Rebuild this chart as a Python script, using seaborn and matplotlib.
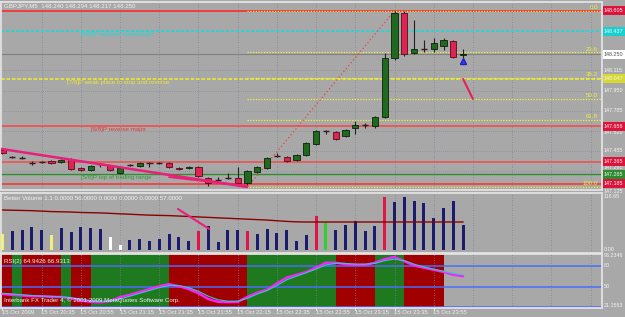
import matplotlib
matplotlib.use("Agg")
import matplotlib.pyplot as plt
import matplotlib.transforms as mtrans
from matplotlib.patches import Rectangle
import numpy as np
import seaborn as sns

sns.set_style("dark")
plt.rcParams['font.family'] = ['Liberation Sans', 'DejaVu Sans']
plt.rcParams['patch.edgecolor'] = 'none'

# ---------------- data ----------------
title_text = "GBPJPY,M5  148.240 148.294 148.217 148.250"
opens = [147.463,147.405,147.405,147.356,147.364,147.373,147.364,147.389,147.315,147.299,
         147.348,147.332,147.274,147.340,147.332,147.356,147.356,147.356,147.315,147.315,
         147.323,147.233,147.217,147.233,147.233,147.192,147.282,147.315,147.414,147.405,
         147.381,147.422,147.512,147.619,147.610,147.578,147.643,147.668,147.660,147.733,
         148.217,148.586,148.258,148.291,148.291,148.316,148.357,148.240]
highs = [147.471,147.414,147.414,147.373,147.373,147.381,147.389,147.397,147.323,147.340,
         147.356,147.340,147.323,147.348,147.364,147.364,147.364,147.364,147.323,147.332,
         147.332,147.241,147.241,147.274,147.323,147.299,147.332,147.405,147.438,147.414,
         147.430,147.528,147.627,147.627,147.619,147.635,147.701,147.685,147.741,148.258,
         148.605,148.605,148.529,148.365,148.381,148.381,148.365,148.294]
lows = [147.430,147.397,147.389,147.340,147.356,147.348,147.356,147.299,147.291,147.291,
        147.323,147.291,147.266,147.332,147.323,147.323,147.348,147.315,147.299,147.307,
        147.241,147.168,147.209,147.225,147.184,147.159,147.274,147.307,147.405,147.364,
        147.373,147.414,147.504,147.594,147.545,147.570,147.594,147.643,147.643,147.725,
        148.201,148.234,148.250,148.266,148.266,148.283,148.217,148.217]
closes = [147.438,147.405,147.400,147.360,147.364,147.356,147.381,147.307,147.299,147.332,
          147.348,147.299,147.315,147.340,147.356,147.356,147.360,147.323,147.307,147.323,
          147.250,147.192,147.217,147.233,147.192,147.291,147.323,147.397,147.414,147.373,
          147.422,147.520,147.619,147.619,147.553,147.627,147.668,147.664,147.733,148.217,
          148.586,148.250,148.291,148.287,148.340,148.365,148.225,148.250]

volumes = [35.8,42.5,44.8,51.5,44.8,33.6,49.3,40.3,51.5,49.3,
           47.0,29.1,11.2,22.4,24.6,20.2,24.6,35.8,29.1,20.2,
           42.5,53.7,17.9,44.8,44.8,42.5,35.8,47.0,38.1,44.8,
           20.2,33.6,76.1,62.7,44.8,56.0,64.9,42.5,53.7,118.65,
           107.5,118.65,109.7,105.2,71.6,94.0,109.7,57.0]
vol_kind = ['y','n','n','n','n','y','n','n','n','n','n','w','w','n','n','n','n','n','n','n',
            'c','n','n','n','n','c','n','n','n','n','n','n','c','g','n','n','n','n','n','c',
            'n','n','n','n','n','n','n','n']
vol_ma = [89.6,89.0,88.5,88.0,87.0,86.0,85.5,85.0,84.0,83.5,83.0,82.0,81.0,80.0,79.0,78.0,
          77.5,77.0,76.0,75.0,74.0,73.0,72.0,71.0,70.0,69.0,68.0,67.0,65.5,64.0,63.0,
          62.7,62.7,62.7,62.7,62.7,62.7,62.7,62.7,62.7,62.7,62.7,62.7,62.7,62.7,62.7,62.7,62.7]

rsi_main = [40,39,38,37,37,36,36,34,31,29, 28.6,30,35.7,39,43,47,51,54,51,47,
            41,33,29,28.6,29,36,42,46,55,63, 67,71,77,84,84,82,81,81,84,89,
            92,86,80,77,74,71,67,64.94]
rsi_signal = [41,40,39,38,37,37,36,35,33,31, 30,30,33,37,41,45,49,52,52,49,
              44,37,32,30,30,34,40,45,52,60, 65,70,75,81,83,83,82,82,83,87,
              89,87,82,78,75,72,69,66.93]
rsi_band = ['r','g','r','r','r','r','g','r','r',
            'g','g','g','g','g','g','g','g',
            'r','r','r','r','r','r','r','r',
            'g','g','g','g','g','g','g','g','g',
            'r','r','r','r','g','g','g','r','r','r','r']

time_label_bars = [0,4,8,12,16,20,24,28,32,36,40,44]
time_labels = ["15 Oct 2009","15 Oct 20:35","15 Oct 20:55","15 Oct 21:15","15 Oct 21:35",
               "15 Oct 21:55","15 Oct 22:15","15 Oct 22:35","15 Oct 22:55","15 Oct 23:15",
               "15 Oct 23:35","15 Oct 23:55"]

murrey_levels = [147.265625, 147.65625, 148.046875, 148.4375]
murrey_texts = ["[5/8]P top of trading range", "[6/8]P reverse major",
                "[7/8]P weak place to stop and reverse", "[8/8]P extreme overbought"]
murrey_labels = ["147.265", "147.656", "148.047", "148.437"]
red_levels = [148.605, 147.365, 147.185]
red_labels = ["148.605", "147.365", "147.185"]
current_price = 148.250
fib_high, fib_low = 148.605, 147.159
fib_high_bar, fib_low_bar = 40, 25
fib_pcts = [0.0, 23.6, 38.2, 50.0, 61.8, 100.0]
price_ticks = [148.115, 147.950, 147.785, 147.620, 147.455, 147.290, 147.125]
trend_a = ([-0.15, 25], [147.472, 147.159])
trend_b = ([17, 25], [147.241, 147.168])
trend_c = ([47, 48], [148.045, 147.881])
vol_trend = ([17.9, 21.1], [91.8, 47.0])

# ---------------- figure ----------------
W, H = 625, 317
BG = '#a8a8a8'
fig = plt.figure(figsize=(W / 100, H / 100), dpi=100, facecolor=BG)
fx = lambda px: px / W
fy = lambda py: 1 - py / H

ax_p = fig.add_axes([fx(1), fy(190), 601 / W, 188.5 / H])
ax_v = fig.add_axes([fx(1), fy(252.5), 601 / W, 60 / H])
ax_r = fig.add_axes([fx(1), fy(307.5), 601 / W, 53.5 / H])

bars = np.arange(len(opens))
XL = (-0.15, 61.17)
grid_c = '#7a8594'
for ax in (ax_p, ax_v, ax_r):
    ax.set_facecolor(BG)
    ax.set_xlim(*XL)
    ax.set_xticks([])
    ax.set_yticks([])
    for s in ax.spines.values():
        s.set_color('#e2e2e2')
        s.set_linewidth(1.3)
    for k in range(4, 62, 4):
        ax.axvline(k, color=grid_c, lw=0.6, ls=(0, (1, 2)), zorder=0.6)

ax_p.set_ylim(147.1348, 148.6805)
ax_v.set_ylim(-5.6, 128.7)
ax_r.set_ylim(21.1563, 96.2346)

# price panel
for t in price_ticks:
    ax_p.axhline(t, color=grid_c, lw=0.5, ls=(0, (1, 2)), zorder=0.6)

ax_p.axhline(current_price, color='#808080', lw=0.8, zorder=1)
ax_p.axhline(murrey_levels[0], color='#2f8f2f', lw=1.0, zorder=1.5)
ax_p.axhline(murrey_levels[1], color='#e85a5a', lw=1.4, zorder=1.5)
ax_p.axhline(murrey_levels[2], color='#e6e63a', lw=1.3, ls=(0, (2, 1)), zorder=1.5)
ax_p.axhline(murrey_levels[3], color='#20d8d8', lw=1.2, ls=(0, (2, 1)), zorder=1.5)
ax_p.axhline(red_levels[0], color='#ff2a2a', lw=1.2, zorder=1.5)
ax_p.axhline(red_levels[1], color='#e85a5a', lw=1.3, zorder=1.5)
ax_p.axhline(red_levels[2], color='#ff3030', lw=1.1, zorder=1.5)

fib_vals = [fib_high - p / 100 * (fib_high - fib_low) for p in fib_pcts]
ax_p.hlines(fib_vals, fib_low_bar, XL[1], color='#f0f040', lw=0.9, ls=(0, (1, 1.2)), zorder=2)
ax_p.plot([fib_low_bar, fib_high_bar], [fib_low, fib_high], color='#e84040', lw=0.9,
          ls=(0, (1, 2)), zorder=2)

# candles
o = np.array(opens); c = np.array(closes); h = np.array(highs); l = np.array(lows)
ax_p.vlines(bars, l, h, color='#202020', lw=0.8, zorder=3)
body = np.abs(c - o)
doji = body < 0.006
bull = (c > o) & ~doji
bear = (c < o) & ~doji
ax_p.bar(bars[bull], (c - o)[bull], bottom=o[bull], width=0.62, color='#1f6a1f',
         edgecolor='#0c200c', linewidth=0.6, zorder=4)
ax_p.bar(bars[bear], (o - c)[bear], bottom=c[bear], width=0.62, color='#dc2553',
         edgecolor='#5a0a1a', linewidth=0.6, zorder=4)
ax_p.hlines(c[doji], bars[doji] - 0.31, bars[doji] + 0.31, color='#3a1818', lw=1.0, zorder=4)

ax_p.plot(*trend_a, color='#e8207a', lw=1.8, zorder=5, solid_capstyle='butt')
ax_p.plot(*trend_b, color='#e8207a', lw=1.4, zorder=5)
ax_p.plot(*trend_c, color='#e8205a', lw=1.5, zorder=5)
ax_p.plot([47], [148.193], marker='^', ms=4.5, color='#3040ff', mec='#2020c0', zorder=6)

tf = dict(fontsize=4.4, zorder=7)
fig.text(fx(4), fy(6), title_text, color='#f2f2f2', va='center', ha='left', fontsize=4.4)
tr_p = mtrans.blended_transform_factory(fig.transFigure, ax_p.transData)
m_x = [81, 91, 67, 81]
m_col = ['#2e9a2e', '#e83a3a', '#e8e830', '#10e0e0']
for lv, txt, xp, col in zip(murrey_levels, murrey_texts, m_x, m_col):
    ax_p.text(fx(xp), lv - 0.006, txt, transform=tr_p, color=col, va='top', ha='left', **tf)
for pct, fv in zip(fib_pcts, fib_vals):
    ax_p.text(fx(598), fv + 0.006, f"{pct:.1f}", transform=tr_p, color='#f0f040',
              va='bottom', ha='right', **tf)

# ---------------- right labels ----------------
box_levels = [red_levels[0], murrey_levels[3], current_price, murrey_levels[2],
              murrey_levels[1], red_levels[1], murrey_levels[0], red_levels[2]]
box_pix = [ax_p.transData.transform((0, v))[1] for v in box_levels]

def rlabel(ax, val, text, fc=None, tc='#f4f4f4', avoid=None):
    ypix = ax.transData.transform((0, val))[1]
    if avoid:
        for bp in avoid:
            d = ypix - bp
            if abs(d) < 6.2:
                ypix = bp + (6.2 if d >= 0 else -6.2)
    yf = ypix / H
    z = 6
    if fc is not None:
        fig.add_artist(Rectangle((fx(603), yf - 4.5 / H), 22 / W, 9 / H, transform=fig.transFigure,
                                 facecolor=fc, edgecolor='none', zorder=8))
        z = 9
    fig.text(fx(604), yf, text, color=tc, fontsize=3.9, va='center', ha='left', zorder=z)

for t in price_ticks:
    rlabel(ax_p, t, f"{t:.3f}", avoid=box_pix)
rlabel(ax_p, red_levels[0], red_labels[0], '#dc143c')
rlabel(ax_p, murrey_levels[3], murrey_labels[3], '#18d0d0')
rlabel(ax_p, current_price, f"{current_price:.3f}", '#ffffff', '#505050')
rlabel(ax_p, murrey_levels[2], murrey_labels[2], '#d8d832')
rlabel(ax_p, murrey_levels[1], murrey_labels[1], '#dc143c')
rlabel(ax_p, red_levels[1], red_labels[1], '#dc143c')
rlabel(ax_p, murrey_levels[0], murrey_labels[0], '#2e8b2e')
rlabel(ax_p, red_levels[2], red_labels[2], '#dc143c')

# ---------------- volume panel ----------------
vcol = {'y': '#f0f07a', 'n': '#1c1c6e', 'w': '#ffffff', 'c': '#e0154a', 'g': '#30d030'}
ax_v.bar(bars, volumes, width=0.32, color=[vcol[k] for k in vol_kind], edgecolor='none',
         linewidth=0, zorder=3)
sns.lineplot(x=bars, y=vol_ma, ax=ax_v, color='#8b0000', lw=1.0, zorder=4)
ax_v.plot(*vol_trend, color='#e8207a', lw=1.5, zorder=5)
fig.text(fx(4), fy(199), "Better Volume 1.1 0.0000 56.0000 0.0000 0.0000 0.0000 57.0000",
         color='#f2f2f2', fontsize=4.4, va='center', ha='left')
rlabel(ax_v, 118.65, "118.65")
rlabel(ax_v, 0.0, "0.00")

# ---------------- RSI panel ----------------
bcol = {'r': '#a00000', 'g': '#1f7a1f'}
ax_r.axvspan(XL[0], 0, color=bcol[rsi_band[0]], lw=0, zorder=0.2)
for k, b in enumerate(rsi_band):
    ax_r.axvspan(k, k + 1, color=bcol[b], lw=0, zorder=0.2)
for lv in (80, 50, 21.8):
    ax_r.axhline(lv, color='#4a6cff', lw=1.1, zorder=1)
sns.lineplot(x=bars, y=rsi_main, ax=ax_r, color='#ff20ff', lw=1.7, zorder=3)
sns.lineplot(x=bars, y=rsi_signal, ax=ax_r, color='#30c8c8', lw=0.8, zorder=4)
for a in (ax_v, ax_r):
    a.set_xlabel(''); a.set_ylabel('')
    a.set_xticks([]); a.set_yticks([])
fig.text(fx(4), fy(261), "RSI(2) 64.9426 66.9313", color='#f2f2f2', fontsize=4.4,
         va='center', ha='left')
fig.text(fx(4), fy(300), "Interbank FX Trader 4, \u00a9 2001-2009 MetaQuotes Software Corp.",
         color='#f2f2f2', fontsize=4.4, va='center', ha='left')
rlabel(ax_r, 96.2346 - 1.5, "96.2346")
rlabel(ax_r, 80, "80")
rlabel(ax_r, 50, "50")
rlabel(ax_r, 24.5, "21.1563")

# ---------------- time axis ----------------
tr_t = mtrans.blended_transform_factory(ax_r.transData, fig.transFigure)
for k, lab in zip(time_label_bars, time_labels):
    fig.text(k - 0.05, fy(312.5), lab, transform=tr_t, color='#f2f2f2', fontsize=4.2,
             va='center', ha='left')
    fig.add_artist(plt.Line2D([k, k], [fy(307.5), fy(310)], transform=tr_t, color='#f2f2f2', lw=0.6))

fig.savefig("out.png", dpi=100, facecolor=BG)
